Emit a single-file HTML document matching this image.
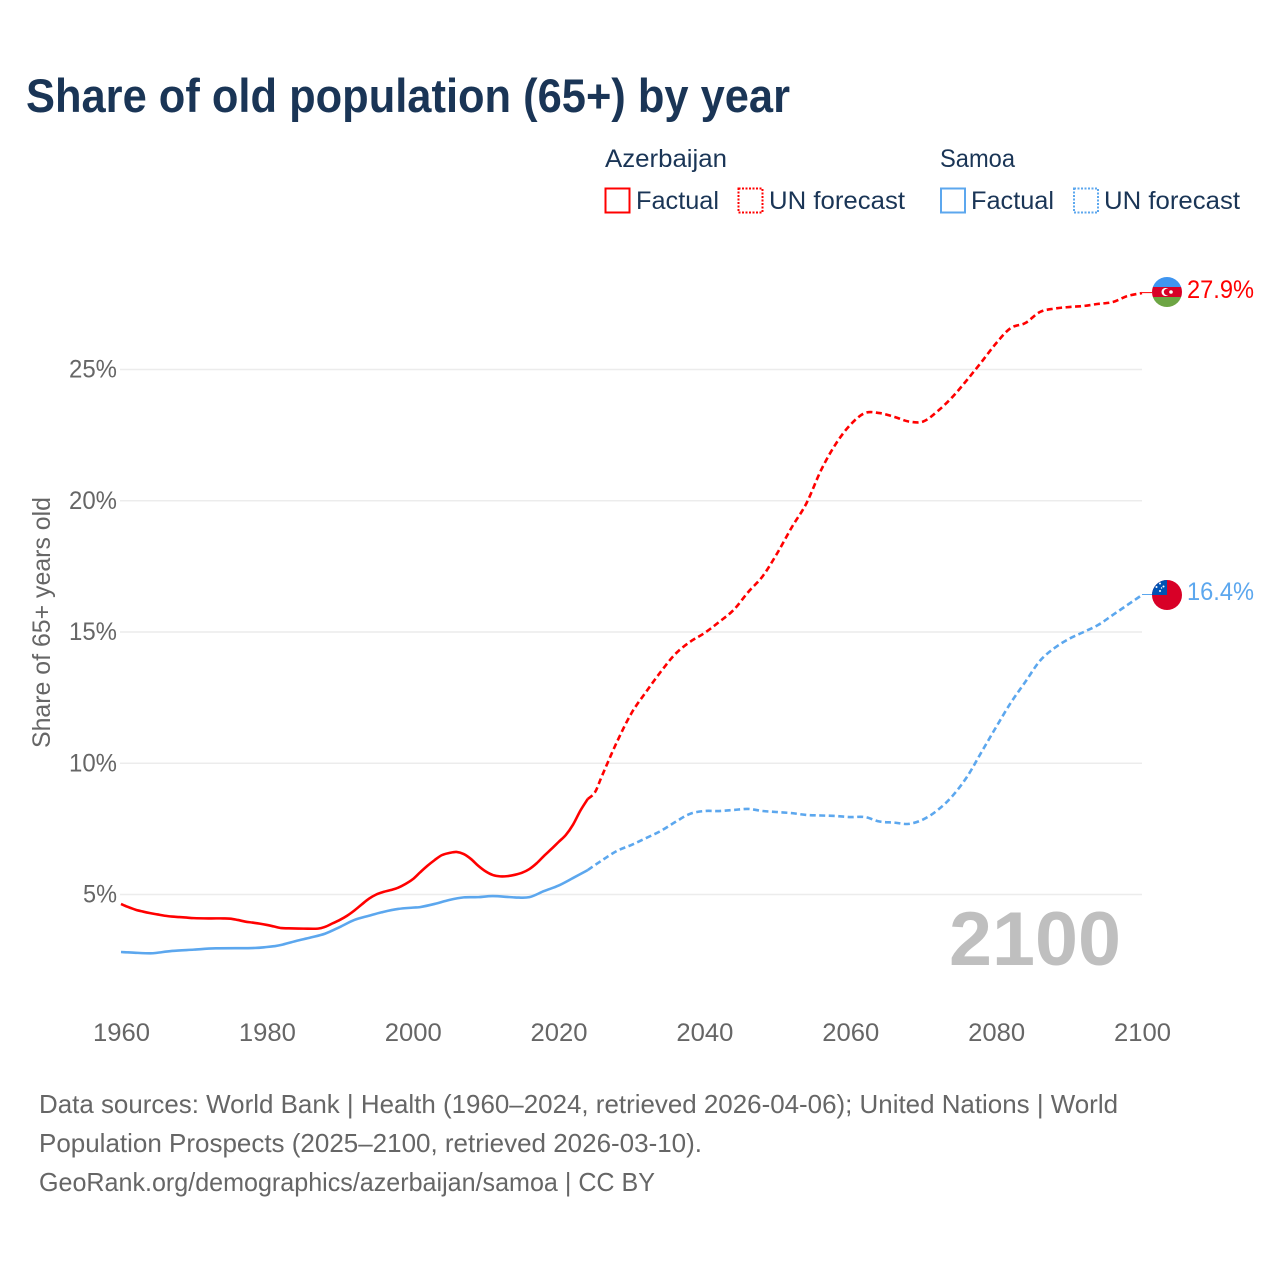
<!DOCTYPE html>
<html lang="en">
<head>
<meta charset="utf-8">
<title>Share of old population (65+) by year</title>
<style>
html,body{margin:0;padding:0;background:#fff;width:1280px;height:1280px;overflow:hidden}
svg{display:block}
text{font-family:"Liberation Sans",sans-serif}
</style>
</head>
<body>
<svg id="chart" width="1280" height="1280" viewBox="0 0 1280 1280" xmlns="http://www.w3.org/2000/svg">
  <rect width="1280" height="1280" fill="#ffffff"/>
  <text x="26" y="112" font-size="47" font-weight="700" fill="#1a3556" textLength="764" lengthAdjust="spacingAndGlyphs">Share of old population (65+) by year</text>

  <g font-size="25" fill="#1a3556">
    <text x="605" y="167" textLength="122" lengthAdjust="spacingAndGlyphs">Azerbaijan</text>
    <text x="940" y="167" textLength="75" lengthAdjust="spacingAndGlyphs">Samoa</text>
    <rect x="605.5" y="188.5" width="24" height="24" fill="none" stroke="#ff0000" stroke-width="2"/>
    <text x="636" y="209" textLength="83" lengthAdjust="spacingAndGlyphs">Factual</text>
    <rect x="738.5" y="188.5" width="24" height="24" fill="none" stroke="#ff0000" stroke-width="2" stroke-dasharray="2 1.5"/>
    <text x="769" y="209" textLength="136" lengthAdjust="spacingAndGlyphs">UN forecast</text>
    <rect x="941" y="188.5" width="24" height="24" fill="none" stroke="#5ca7ee" stroke-width="2"/>
    <text x="971" y="209" textLength="83" lengthAdjust="spacingAndGlyphs">Factual</text>
    <rect x="1074" y="188.5" width="24" height="24" fill="none" stroke="#5ca7ee" stroke-width="2" stroke-dasharray="2 1.5"/>
    <text x="1104" y="209" textLength="136" lengthAdjust="spacingAndGlyphs">UN forecast</text>
  </g>

  <g id="grid"></g>
  <g id="yticks" font-size="25" fill="#666666" text-anchor="end"></g>
  <g id="xticks" font-size="25" fill="#666666" text-anchor="middle"></g>
  <text transform="translate(50,748) rotate(-90)" font-size="25" fill="#666666" textLength="251" lengthAdjust="spacingAndGlyphs">Share of 65+ years old</text>

  <text x="949" y="965" font-size="76" font-weight="700" fill="#bfbfbf" textLength="172" lengthAdjust="spacingAndGlyphs">2100</text>

  <g id="series"></g>

  <defs>
    <clipPath id="clip-az"><circle cx="1167" cy="292" r="15"/></clipPath>
    <clipPath id="clip-ws"><circle cx="1167" cy="595" r="15"/></clipPath>
  </defs>
  <g clip-path="url(#clip-az)">
    <rect x="1152" y="277" width="30" height="10" fill="#3f95f0"/>
    <rect x="1152" y="287" width="30" height="10" fill="#d80027"/>
    <rect x="1152" y="297" width="30" height="10" fill="#6da544"/>
    <circle cx="1165.5" cy="292" r="4" fill="#ffffff"/>
    <circle cx="1167" cy="292" r="3.2" fill="#d80027"/>
    <circle cx="1171" cy="292" r="1.8" fill="#ffffff"/>
  </g>
  <g clip-path="url(#clip-ws)">
    <rect x="1152" y="580" width="30" height="30" fill="#d80027"/>
    <rect x="1152" y="580" width="15" height="15" fill="#0052b4"/>
    <circle cx="1160" cy="583.5" r="1" fill="#fff"/>
    <circle cx="1156.5" cy="587" r="1" fill="#fff"/>
    <circle cx="1163.5" cy="586.5" r="1" fill="#fff"/>
    <circle cx="1160" cy="591" r="1" fill="#fff"/>
    <circle cx="1161.5" cy="588" r="0.7" fill="#fff"/>
  </g>
  <text id="label-az" x="1187" y="298" font-size="25" fill="#ff0000" textLength="67" lengthAdjust="spacingAndGlyphs"></text>
  <text id="label-ws" x="1187" y="600" font-size="25" fill="#5ca7ee" textLength="67" lengthAdjust="spacingAndGlyphs"></text>

  <g font-size="26" fill="#666666">
    <text x="39" y="1113" textLength="1079" lengthAdjust="spacingAndGlyphs">Data sources: World Bank | Health (1960–2024, retrieved 2026-04-06); United Nations | World</text>
    <text x="39" y="1152" textLength="663" lengthAdjust="spacingAndGlyphs">Population Prospects (2025–2100, retrieved 2026-03-10).</text>
    <text x="39" y="1191" textLength="616" lengthAdjust="spacingAndGlyphs">GeoRank.org/demographics/azerbaijan/samoa | CC BY</text>
  </g>
</svg>
<script>
const xTickYears = [1960, 1980, 2000, 2020, 2040, 2060, 2080, 2100];
const yTickValues = [5, 10, 15, 20, 25];

const azFactualYears = [1960,1961,1962,1963,1964,1965,1966,1967,1968,1969,1970,1972,1974,1975,1976,1977,1978,1979,1980,1981,1982,1983,1985,1987,1988,1989,1990,1991,1992,1993,1994,1995,1996,1997,1998,1999,2000,2001,2002,2003,2004,2005,2006,2007,2008,2009,2010,2011,2012,2013,2014,2015,2016,2017,2018,2019,2020,2021,2022,2023,2024];
const azFactualValues = [4.64,4.52,4.42,4.35,4.29,4.24,4.19,4.16,4.14,4.12,4.10,4.09,4.09,4.08,4.03,3.97,3.93,3.89,3.84,3.78,3.72,3.71,3.70,3.70,3.77,3.90,4.03,4.19,4.39,4.62,4.84,5.00,5.10,5.17,5.26,5.40,5.58,5.84,6.09,6.31,6.50,6.58,6.62,6.54,6.35,6.09,5.88,5.74,5.69,5.70,5.75,5.83,5.97,6.19,6.47,6.73,7.00,7.27,7.67,8.20,8.64];
const azForecastYears = [2024,2025,2026,2028,2030,2032,2034,2036,2038,2040,2042,2044,2046,2048,2050,2052,2054,2056,2058,2060,2062,2064,2066,2068,2070,2072,2074,2076,2078,2080,2082,2084,2086,2088,2090,2092,2094,2096,2098,2100];
const azForecastValues = [8.64,8.90,9.55,10.81,11.91,12.72,13.48,14.16,14.62,14.96,15.38,15.84,16.52,17.13,18.01,19.00,19.91,21.17,22.16,22.89,23.34,23.34,23.20,23.02,23.02,23.42,23.95,24.60,25.29,26.00,26.58,26.77,27.19,27.32,27.38,27.42,27.50,27.57,27.80,27.91];

const wsFactualYears = [1960,1962,1964,1965,1967,1970,1973,1978,1980,1981,1982,1984,1986,1988,1990,1992,1994,1996,1998,2000,2001,2003,2005,2007,2009,2011,2014,2016,2018,2020,2022,2024];
const wsFactualValues = [2.81,2.78,2.76,2.78,2.85,2.90,2.95,2.96,3.00,3.03,3.08,3.23,3.36,3.51,3.76,4.03,4.19,4.34,4.45,4.50,4.52,4.64,4.79,4.89,4.90,4.94,4.89,4.90,5.13,5.34,5.63,5.93];
const wsForecastYears = [2024,2026,2028,2030,2032,2034,2036,2038,2040,2042,2044,2046,2048,2050,2052,2054,2056,2058,2060,2062,2064,2066,2068,2070,2072,2074,2076,2078,2080,2082,2084,2086,2088,2090,2092,2094,2096,2098,2100];
const wsForecastValues = [5.93,6.31,6.66,6.89,7.15,7.42,7.76,8.07,8.18,8.18,8.22,8.26,8.18,8.14,8.10,8.03,8.01,7.99,7.95,7.95,7.78,7.74,7.69,7.86,8.22,8.75,9.48,10.43,11.38,12.30,13.10,13.90,14.39,14.74,15.00,15.27,15.65,16.03,16.41];

const NS = 'http://www.w3.org/2000/svg';
const x0 = 121, x1 = 1142, yearMin = 1960, yearMax = 2100;
const yBase = 894.5, pxPerPct = 26.25;
function xScale(year) { return x0 + (year - yearMin) * (x1 - x0) / (yearMax - yearMin); }
function yScale(v) { return yBase - (v - 5) * pxPerPct; }

function smoothPath(years, values) {
  const p = years.map(function (yr, i) { return [xScale(yr), yScale(values[i])]; });
  let d = 'M' + p[0][0].toFixed(2) + ' ' + p[0][1].toFixed(2);
  for (let i = 0; i < p.length - 1; i++) {
    const a = p[Math.max(0, i - 1)], b = p[i], c = p[i + 1], e = p[Math.min(p.length - 1, i + 2)];
    const c1x = b[0] + (c[0] - a[0]) / 6, c1y = b[1] + (c[1] - a[1]) / 6;
    const c2x = c[0] - (e[0] - b[0]) / 6, c2y = c[1] - (e[1] - b[1]) / 6;
    d += 'C' + c1x.toFixed(2) + ' ' + c1y.toFixed(2) + ' ' + c2x.toFixed(2) + ' ' + c2y.toFixed(2) + ' ' + c[0].toFixed(2) + ' ' + c[1].toFixed(2);
  }
  return d;
}

const gridGroup = document.getElementById('grid');
const yTickGroup = document.getElementById('yticks');
const xTickGroup = document.getElementById('xticks');
const seriesGroup = document.getElementById('series');

yTickValues.forEach(function (v) {
  const line = document.createElementNS(NS, 'line');
  
  
  line.setAttribute('x1', x0 - 1);
  line.setAttribute('x2', x1);
  line.setAttribute('y1', yScale(v));
  line.setAttribute('y2', yScale(v));
  line.setAttribute('stroke', '#ececec');
  line.setAttribute('stroke-width', '1.6');
  gridGroup.appendChild(line);
  const t = document.createElementNS(NS, 'text');
  
  
  t.setAttribute('x', 117);
  t.setAttribute('y', yScale(v) + 8);
  t.setAttribute('textLength', v < 10 ? 34 : 48);
  t.setAttribute('lengthAdjust', 'spacingAndGlyphs');
  t.textContent = v + '%';
  yTickGroup.appendChild(t);
});

xTickYears.forEach(function (yr) {
  const t = document.createElementNS(NS, 'text');
  
  
  t.setAttribute('x', xScale(yr) + 0.5);
  t.setAttribute('y', 1041);
  t.setAttribute('textLength', 57);
  t.setAttribute('lengthAdjust', 'spacingAndGlyphs');
  t.textContent = yr;
  xTickGroup.appendChild(t);
});

function addLine(name, years, values, color, dashed) {
  const path = document.createElementNS(NS, 'path');
  
  
  path.setAttribute('d', smoothPath(years, values));
  path.setAttribute('fill', 'none');
  path.setAttribute('stroke', color);
  path.setAttribute('stroke-width', '2.6');
  path.setAttribute('stroke-linejoin', 'round');
  if (dashed) path.setAttribute('stroke-dasharray', '6 3.5');
  seriesGroup.appendChild(path);
}
addLine('samoa-factual-line', wsFactualYears, wsFactualValues, '#5ca7ee', false);
addLine('samoa-forecast-line', wsForecastYears, wsForecastValues, '#5ca7ee', true);
addLine('azerbaijan-factual-line', azFactualYears, azFactualValues, '#ff0000', false);
addLine('azerbaijan-forecast-line', azForecastYears, azForecastValues, '#ff0000', true);

function addConnector(name, value, color) {
  const c = document.createElementNS(NS, 'line');
  
  
  c.setAttribute('x1', xScale(yearMax));
  c.setAttribute('x2', xScale(yearMax) + 10);
  c.setAttribute('y1', yScale(value) - 0.5);
  c.setAttribute('y2', yScale(value) - 0.5);
  c.setAttribute('stroke', color);
  c.setAttribute('stroke-width', '1');
  seriesGroup.appendChild(c);
}
const azLast = azForecastValues[azForecastValues.length - 1];
const wsLast = wsForecastValues[wsForecastValues.length - 1];
addConnector('azerbaijan-end-connector', azLast, '#ff0000');
addConnector('samoa-end-connector', wsLast, '#5ca7ee');
document.getElementById('label-az').textContent = azLast.toFixed(1) + '%';
document.getElementById('label-ws').textContent = wsLast.toFixed(1) + '%';
</script>
</body>
</html>
